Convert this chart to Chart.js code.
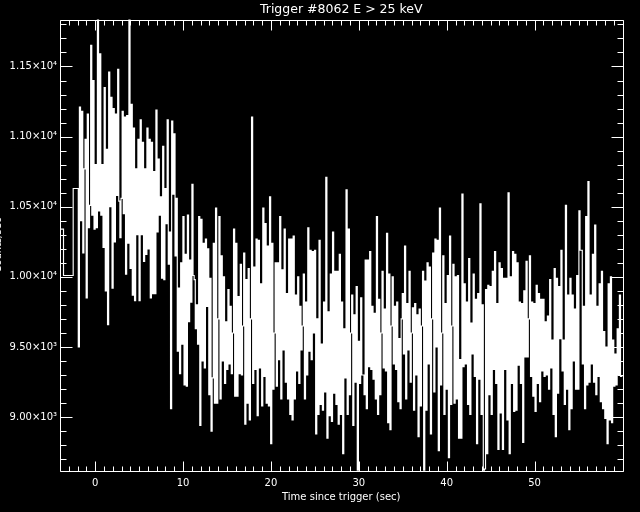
<!DOCTYPE html>
<html lang="en">
<head>
    <meta charset="UTF-8">
    <title>Trigger #8062 E &gt; 25 keV</title>
    <script src="https://cdn.jsdelivr.net/npm/chart.js"></script>
    <style>
        body { margin: 0; background: #000; }
        canvas { display: block; }
    </style>
</head>
<body>
    <canvas id="lightCurve" width="640" height="512"></canvas>

    <script>
        // Labels
        const titleText = "Trigger #8062 E > 25 keV";
        const xTitle = "Time since trigger (sec)";
        const yTitle = "Counts/sec";

        // Tick labels
        const xTickValues = [0, 10, 20, 30, 40, 50];
        const yTickValues = [9000, 9500, 10000, 10500, 11000, 11500];
        const yTickLabels = ["9.00×10³", "9.50×10³", "1.00×10⁴", "1.05×10⁴", "1.10×10⁴", "1.15×10⁴"];

        // Pre-trigger coarse bins (start times, counts/sec)
        const preTimes = [-4.0, -3.6, -2.5];
        const preCounts = [10360, 10340, 10010];

        // Fine bins after -1.92 s
        const binStart = -1.92;
        const binWidth = 0.128;
        const counts = [
            // -1.9 .. 12.4 s
            10630, 9500, 11210, 10400, 11180, 10170, 10770, 10980, 9850, 11160,
            10350, 10510, 11650, 10440, 11400, 10340, 10800, 10350, 11840, 10470,
            11590, 10440, 10800, 10210, 11350, 9900, 10910, 9660, 11460, 10500,
            11280, 9920, 11200, 10250, 11160, 10580, 11480, 10540, 10280, 10560,
            11180, 10450, 11140, 10020, 11150, 10240, 11840, 10060, 11230, 9870,
            11060, 9830, 10770, 10300, 10980, 9830, 11120, 10300, 10960, 10110,
            10770, 10160, 11060, 10200, 10980, 9850, 10960, 9880, 10750, 9880,
            11190, 10320, 10840, 10440, 10570, 9990, 10930, 9980, 10630, 10380,
            11120, 10090, 10320, 9060, 11110, 10590, 11020, 10150, 10560, 9470,
            9920, 9310, 10100, 9520, 10430, 9230, 10160, 9220, 10440, 9680,
            10120, 9820, 10660, 10010, 9980, 9630, 9800, 9520, 10430, 8940,
            10410, 9400,
            // 12.4 .. 22.1 s
            10240, 9350, 10270, 9790, 10200, 9160, 9990, 8900, 9280, 10240,
            9100, 10490, 9100, 9700, 10430, 9130, 10150, 9400, 10000, 9240,
            9680, 9340, 9910, 9380, 9790, 9310, 9600, 10340, 9150, 10240,
            9150, 9860, 9310, 10090, 9300, 9650, 10170, 8950, 9980, 9100,
            10060, 8980, 9700, 11140, 9240, 10070, 9340, 10270, 9010, 10260,
            9350, 9950, 9080, 10490, 9290, 10380, 9100, 10220, 9080, 10570,
            8810, 10240, 9200, 9600, 10100, 9220, 10100, 9410, 10430, 9130,
            10050, 9480, 10340, 9250, 9880, 9130,
            // 22.1 .. 31.9 s
            10270, 9020, 10270, 8980, 10290, 9130, 9870, 9330, 10000, 9240,
            9790, 9480, 9650, 10020, 9130, 9820, 9300, 10350, 9470, 10190,
            9410, 10180, 9600, 10190, 8880, 9700, 9020, 10260, 9090, 9520,
            9050, 9820, 9180, 10710, 8850, 9750, 9010, 10020, 8970, 10320,
            9170, 10040, 9090, 10040, 8950, 10160, 9020, 9820, 8740, 9630,
            9280, 10620, 9020, 10340, 9160, 9600, 9870, 8940, 9730, 9250,
            9930, 8600, 9540, 9240, 9850, 9300, 9300, 9160, 10120, 9060,
            10120, 9360, 10180, 9340, 9790, 9270,
            // 31.9 .. 41.6 s
            9740, 9130, 10430, 9020, 9840, 9160, 9600, 10040, 9350, 9770,
            9330, 10310, 8960, 10020, 8910, 9650, 10000, 9380, 9790, 9340,
            9820, 9110, 9560, 9060, 9700, 9880, 9450, 10220, 9130, 9810,
            9480, 10040, 9250, 9600, 9780, 9050, 9810, 9300, 9730, 8860,
            9770, 9080, 9650, 10040, 8610, 9970, 9050, 10100, 9380, 10070,
            8880, 9700, 10170, 9180, 10270, 9500, 10260, 8760, 10490, 9230,
            9600, 10150, 9020, 9810, 9200, 10010, 8710, 10290, 9090, 9650,
            10090, 9100, 10000, 9130, 10010, 8850,
            // 41.6 .. 51.3 s
            9410, 8850, 10590, 9360, 9950, 9380, 9820, 9090, 10130, 9020,
            9670, 9450, 10020, 9290, 9840, 8810, 9880, 9270, 10520, 9020,
            9800, 8620, 8630, 9910, 8740, 9940, 9160, 9930, 9020, 10040,
            9340, 10180, 9240, 9810, 8770, 10100, 9030, 10060, 8770, 9990,
            9340, 9990, 8980, 10600, 8740, 10000, 9240, 10180, 9040, 10160,
            9050, 10100, 9370, 9820, 9240, 9810, 8820, 9900, 9430, 10110,
            9430, 9700, 10150, 9290, 9820, 9150, 9810, 9040, 9940, 9240,
            9880, 9110, 9840, 9330, 9840, 9290,
            // 51.3 .. 60.0 s
            9680, 9300, 9720, 9200, 9980, 9350, 9550, 9020, 10060, 8860,
            9990, 9170, 9930, 9560, 10190, 9330, 9550, 9090, 10510, 9200,
            9870, 8910, 9990, 9060, 9870, 9400, 9770, 9200, 10010, 9200,
            10470, 10190, 10190, 9380, 9790, 9060, 10430, 9230, 10680, 9250,
            9870, 9380, 10160, 9250, 10370, 9160, 9790, 9290, 9950, 9110,
            10040, 9060, 9610, 8990, 9500, 8810, 9950, 8980, 10000, 8960,
            9550, 9220, 9450, 9230, 9630, 9300, 9870, 9290
        ];

        // Build step points
        const points = [];
        preTimes.forEach((t, i) => points.push({ x: t, y: preCounts[i] }));
        counts.forEach((c, i) => points.push({ x: binStart + i * binWidth, y: c }));
        points.push({ x: binStart + counts.length * binWidth, y: counts[counts.length - 1] });

        const labelFont = { family: "DejaVu Sans", size: 10 };

        // Black page, IDL style box with inward ticks, title, clipped y title
        const idlFrame = {
            id: 'idlFrame',
            beforeDraw(chart) {
                const ctx = chart.ctx;
                ctx.save();
                ctx.fillStyle = '#000';
                ctx.fillRect(0, 0, chart.width, chart.height);
                ctx.restore();
            },
            afterDraw(chart) {
                const { ctx, chartArea: a } = chart;
                const xs = chart.scales.x;
                const ys = chart.scales.y;
                const left = Math.round(a.left) + 0.5;
                const right = Math.round(a.right) + 0.5;
                const top = Math.round(a.top) + 0.5;
                const bottom = Math.round(a.bottom) + 0.5;

                ctx.save();
                ctx.strokeStyle = '#fff';
                ctx.lineWidth = 1;
                ctx.beginPath();
                ctx.rect(left, top, right - left, bottom - top);

                for (let v = Math.ceil(xs.min); v <= xs.max; v++) {
                    const px = Math.round(xs.getPixelForValue(v)) + 0.5;
                    const len = v % 10 === 0 ? 10 : 5;
                    ctx.moveTo(px, bottom); ctx.lineTo(px, bottom - len);
                    ctx.moveTo(px, top); ctx.lineTo(px, top + len);
                }
                for (let v = Math.ceil(ys.min / 100) * 100; v <= ys.max; v += 100) {
                    const py = Math.round(ys.getPixelForValue(v)) + 0.5;
                    const len = v % 500 === 0 ? 12 : 6;
                    ctx.moveTo(left, py); ctx.lineTo(left + len, py);
                    ctx.moveTo(right, py); ctx.lineTo(right - len, py);
                }
                ctx.stroke();

                ctx.fillStyle = '#fff';
                ctx.font = '12.5px "DejaVu Sans"';
                ctx.textAlign = 'center';
                ctx.textBaseline = 'middle';
                ctx.fillText(titleText, (a.left + a.right) / 2, 10);

                // y title sits almost entirely off the left edge
                ctx.translate(1.0, (a.top + a.bottom) / 2);
                ctx.rotate(-Math.PI / 2);
                ctx.font = '10px "DejaVu Sans"';
                ctx.textBaseline = 'alphabetic';
                ctx.fillText(yTitle, 0, 0);
                ctx.restore();
            }
        };

        new Chart(document.getElementById('lightCurve'), {
            type: 'line',
            data: {
                datasets: [{
                    data: points,
                    borderColor: '#fff',
                    borderWidth: 1.15,
                    pointRadius: 0,
                    stepped: 'after',
                    fill: false
                }]
            },
            options: {
                responsive: false,
                animation: false,
                events: [],
                layout: { padding: { left: 0, right: 17.5, top: 19.5, bottom: 0 } },
                plugins: {
                    legend: { display: false },
                    tooltip: { enabled: false }
                },
                scales: {
                    x: {
                        type: 'linear',
                        min: -4,
                        max: 60,
                        grid: { display: false, drawTicks: false },
                        border: { display: false },
                        afterBuildTicks: axis => { axis.ticks = xTickValues.map(v => ({ value: v })); },
                        afterFit: scale => { scale.height = 41.3; },
                        ticks: {
                            color: '#fff',
                            font: labelFont,
                            padding: 6.6,
                            maxRotation: 0,
                            autoSkip: false,
                            callback: v => String(v)
                        },
                        title: {
                            display: true,
                            text: xTitle,
                            color: '#fff',
                            font: labelFont,
                            padding: { top: 0, bottom: 9 }
                        }
                    },
                    y: {
                        min: 8618,
                        max: 11835,
                        grid: { display: false, drawTicks: false },
                        border: { display: false },
                        afterBuildTicks: axis => { axis.ticks = yTickValues.map(v => ({ value: v })); },
                        afterFit: scale => { scale.width = 60; },
                        ticks: {
                            color: '#fff',
                            font: labelFont,
                            padding: 3,
                            autoSkip: false,
                            callback: (v, i) => yTickLabels[i]
                        }
                    }
                }
            },
            plugins: [idlFrame]
        });
    </script>
</body>
</html>
